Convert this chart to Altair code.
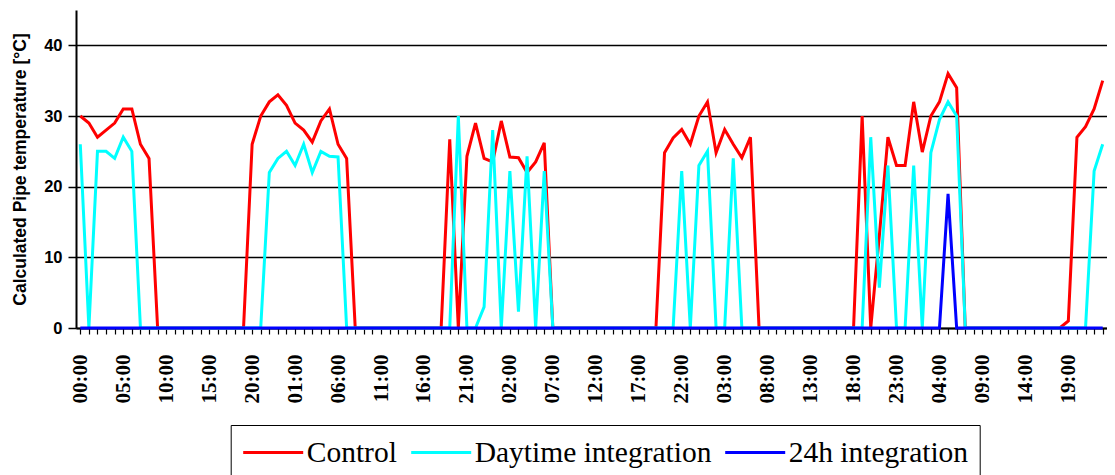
import altair as alt
import pandas as pd

hours = list(range(120))

control = [30, 29, 27, 28, 29, 31, 31, 26, 24, 0,
           0, 0, 0, 0, 0, 0, 0, 0, 0, 0,
           26, 30, 32, 33, 31.5, 29, 28, 26.3, 29.3, 31,
           26, 24, 0, 0, 0, 0, 0, 0, 0, 0,
           0, 0, 0, 26.7, 0, 24.3, 29, 24, 23.5, 29.3,
           24.2, 24.1, 22, 23.5, 26.2, 0, 0, 0, 0, 0,
           0, 0, 0, 0, 0, 0, 0, 0, 24.8, 26.9,
           28.1, 26, 30, 32, 24.8, 28.1, 26, 24.1, 27, 0,
           0, 0, 0, 0, 0, 0, 0, 0, 0, 0,
           0, 30, 0, 13, 27, 23, 23, 32, 24.9, 30,
           32, 36, 34, 0, 0, 0, 0, 0, 0, 0,
           0, 0, 0, 0, 0, 1, 27, 28.5, 31, 35]

daytime = [26, 0, 25, 25, 24, 27, 25, 0, 0, 0,
           0, 0, 0, 0, 0, 0, 0, 0, 0, 0,
           0, 0, 22, 24, 25, 23, 26, 22, 25, 24.3,
           24.2, 0, 0, 0, 0, 0, 0, 0, 0, 0,
           0, 0, 0, 0, 30, 0, 0, 3, 28, 0,
           22.2, 2.3, 24.3, 0, 22.2, 0, 0, 0, 0, 0,
           0, 0, 0, 0, 0, 0, 0, 0, 0, 0,
           22.2, 0, 23, 25, 0, 0, 24, 0, 0, 0,
           0, 0, 0, 0, 0, 0, 0, 0, 0, 0,
           0, 0, 27, 5.7, 23, 0, 0, 23, 0, 24.8,
           29.5, 32, 30, 0, 0, 0, 0, 0, 0, 0,
           0, 0, 0, 0, 0, 0, 0, 0, 22.2, 26]

integ24 = [0] * 101 + [19] + [0] * 18

series_names = ["Control", "Daytime integration", "24h integration"]
series_colors = ["#FF0000", "#00FFFF", "#0000FF"]
y_ticks = [0, 10, 20, 30, 40]

rows = []
for name, vals in zip(series_names, [control, daytime, integ24]):
    for h, v in zip(hours, vals):
        rows.append({"hour": h, "value": v, "series": name})
df = pd.DataFrame(rows)

label_expr = ("datum.value % 5 == 0 ? (((datum.value % 24) < 10 ? '0' : '') + "
              "(datum.value % 24) + ':00') : ''")

x_enc = alt.X(
    "hour:Q",
    scale=alt.Scale(domain=[-0.5, 119.5], nice=False, zero=False),
    axis=alt.Axis(
        values=hours, labelExpr=label_expr, labelAngle=270, labelAlign="right",
        labelBaseline="middle", labelFont="Liberation Serif", labelFontWeight="bold",
        labelFontSize=21, labelColor="black", labelPadding=20, labelOverlap=False,
        labelFlush=False, tickSize=6, tickColor="black", tickWidth=1.2,
        domainColor="black", domainWidth=2, grid=False, title=None,
    ),
)

y_enc = alt.Y(
    "value:Q",
    scale=alt.Scale(domain=[0, 45], nice=False),
    axis=alt.Axis(
        values=y_ticks, grid=True, gridColor="black", gridWidth=1.6,
        domainColor="black", domainWidth=2, tickColor="black", tickSize=8,
        tickWidth=1.5, labelFont="Liberation Sans", labelFontWeight="bold",
        labelFontSize=16.5, labelColor="black", labelPadding=6,
        title="Calculated Pipe temperature [°C]", titleFont="Liberation Sans",
        titleFontWeight="bold", titleFontSize=17.5, titleColor="black",
        titleX=-56, titleY=159, titleAngle=270, titleAlign="center",
        titleBaseline="middle",
    ),
)

color_enc = alt.Color(
    "series:N",
    scale=alt.Scale(domain=series_names, range=series_colors),
    legend=alt.Legend(
        orient="none", legendX=154.7, legendY=415, direction="horizontal",
        title=None, strokeColor="black", fillColor="white", padding=11,
        symbolType="M-1,0H3", symbolSize=900, symbolStrokeWidth=3,
        labelFont="Liberation Serif", labelFontSize=29.5, labelColor="black",
        labelOffset=32, columnPadding=7, labelLimit=0,
    ),
)

base = alt.Chart(df).mark_line(strokeWidth=3).encode(x=x_enc, y=y_enc, color=color_enc)
layers = [base.transform_filter(alt.datum.series == n) for n in series_names]

chart = alt.layer(*layers).properties(
    width=1031, height=318,
    autosize=alt.AutoSizeParams(type="none"),
    padding={"left": 68, "top": 2, "right": 0, "bottom": 147},
    background="white",
).configure_view(strokeWidth=0)

chart.save("out.html", embed_options={"renderer": "svg", "actions": False})
